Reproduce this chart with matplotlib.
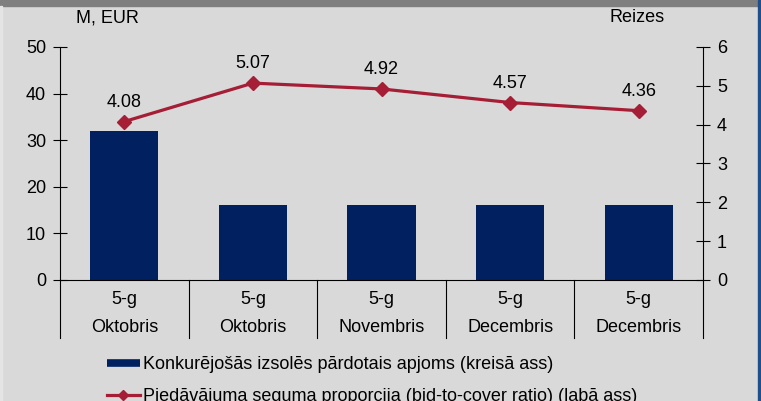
import matplotlib
matplotlib.use("Agg")
from matplotlib import pyplot as plt
from matplotlib.patches import Rectangle
from matplotlib.lines import Line2D

# data
terms = ["5-g", "5-g", "5-g", "5-g", "5-g"]
months = ["Oktobris", "Oktobris", "Novembris", "Decembris", "Decembris"]
sold = [32, 16, 16, 16, 16]
bid_cover = [4.08, 5.07, 4.92, 4.57, 4.36]

bar_label = "Konkurējošās izsolēs pārdotais apjoms (kreisā ass)"
line_label = "Piedāvājuma seguma proporcija (bid-to-cover ratio) (labā ass)"

plt.rcParams["font.family"] = ["Liberation Sans", "DejaVu Sans"]
plt.rcParams["font.size"] = 13

BG = "#D9D9D9"
NAVY = "#002060"
RED = "#A51E36"

W, H = 761, 401
fig = plt.figure(figsize=(W / 100, H / 100), dpi=100)
fig.patch.set_facecolor(BG)

# frame decorations: grey band on top, blue strip on the right
fig.add_artist(Rectangle((0, (H - 6) / H), 1, 6 / H, transform=fig.transFigure,
                         color="#7F7F7F", zorder=10))
fig.add_artist(Rectangle(((W - 3) / W, 0), 3 / W, 1, transform=fig.transFigure,
                         color="#1F4E8C", zorder=10))
fig.add_artist(Rectangle((0, 0), 2 / W, (H - 6) / H, transform=fig.transFigure,
                         color="#E4E4E4", zorder=10))

x0, x1 = 60, 703
y0, y1 = 280, 47
ax = fig.add_axes([x0 / W, (H - y0) / H, (x1 - x0) / W, (y0 - y1) / H])
ax.set_facecolor("none")
ax2 = ax.twinx()

xs = list(range(len(sold)))
ax.bar(xs, sold, width=0.53, color=NAVY, zorder=2)
ax.set_xlim(-0.5, len(sold) - 0.5)
ax.set_ylim(0, 50)
ax.set_yticks(range(0, 51, 10))

ax2.plot(xs, bid_cover, color=RED, lw=2.3, marker="D", ms=7, zorder=3)
ax2.set_ylim(0, 6)
ax2.set_yticks(range(0, 7))
for x, v in zip(xs, bid_cover):
    ax2.annotate(f"{v:.2f}", (x, v), xytext=(0, 14), textcoords="offset points",
                 ha="center", va="center")

for a in (ax, ax2):
    a.spines["top"].set_visible(False)
    a.tick_params(axis="y", direction="inout", length=10, width=0.8,
                  colors="black", pad=5)
ax.spines["right"].set_visible(False)
ax2.spines["left"].set_visible(False)
ax2.spines["bottom"].set_visible(False)
ax.spines["bottom"].set_linewidth(0.8)
ax.spines["left"].set_linewidth(0.8)
ax2.spines["right"].set_linewidth(0.8)

# category axis: two-line labels and separators
ax.set_xticks([])
trans = ax.get_xaxis_transform()
for x, t, m in zip(xs, terms, months):
    ax.text(x, -20 / 233, t, transform=trans, ha="center", va="center")
    ax.text(x, -48 / 233, m, transform=trans, ha="center", va="center")
for b in [i - 0.5 for i in range(len(sold) + 1)]:
    ax.plot([b, b], [0, -58 / 233], transform=trans, color="black", lw=0.8,
            clip_on=False)

fig.text(76 / W, (H - 18) / H, "M, EUR", ha="left", va="center")
fig.text(637 / W, (H - 17) / H, "Reizes", ha="center", va="center")

handles = [Line2D([], [], color=NAVY, lw=5.5, solid_capstyle="butt"),
           Line2D([], [], color=RED, lw=2.3, marker="D", ms=5)]
fig.legend(handles, [bar_label, line_label], loc="upper left",
           bbox_to_anchor=(107 / W, (H - 356) / H), frameon=False,
           handlelength=1.8, handletextpad=0.2, labelspacing=0.85,
           borderaxespad=0, borderpad=0)

fig.savefig("out.png", dpi=100, facecolor=BG)
